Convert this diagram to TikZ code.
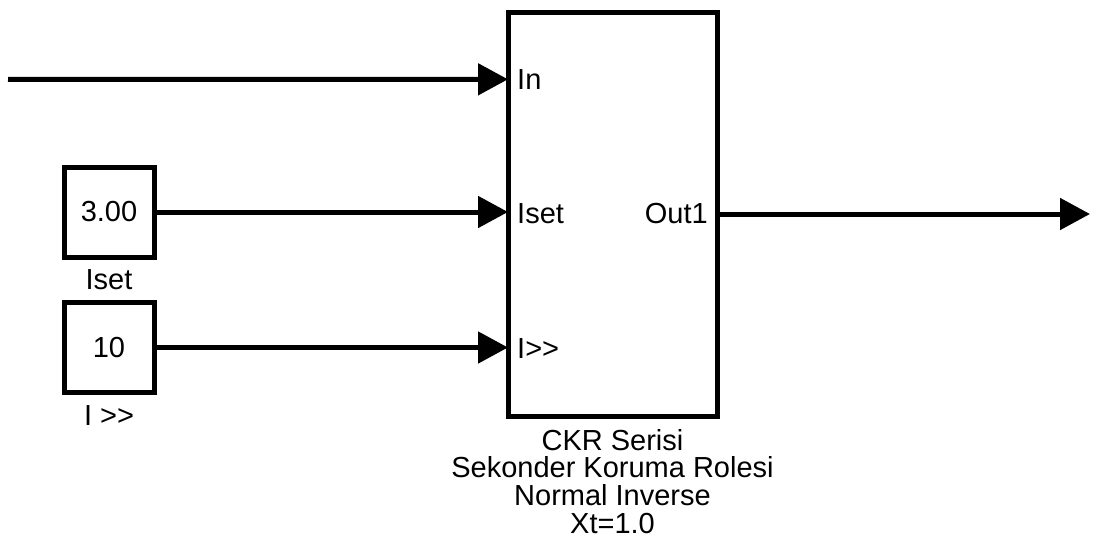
\documentclass[tikz,border=0pt]{standalone}
\usepackage{fontspec}
\setmainfont{Liberation Sans}
\usetikzlibrary{arrows.meta,calc}
\begin{document}
\begin{tikzpicture}[x=1pt,y=1pt,
  wire/.style={line width=5pt, -{Triangle[length=30pt,width=31pt]}},
  blk/.style={draw, line width=5pt, inner sep=0pt, outer sep=0pt},
  lbl/.style={font=\fontsize{29}{27.7}\selectfont, inner sep=0pt},
]
\useasboundingbox (0,0) rectangle (1098,-554);

% relay block
\node[blk, minimum width=209pt, minimum height=404pt] (ckr) at (612.5,-214) {};
\coordinate (pin)  at ($(ckr.north west)!1/6!(ckr.south west)$);
\coordinate (pset) at (ckr.west);
\coordinate (phi)  at ($(ckr.north west)!5/6!(ckr.south west)$);

% port labels
\node[lbl, anchor=west] (tin)  at ($(pin)+(9,0)$)  {In};
\node[lbl, anchor=west] (tset) at ($(pset)+(9,0)$) {Iset};
\node[lbl, anchor=west] (thi)  at ($(phi)+(9,0)$)  {I>{}>};
\node[lbl, anchor=east] (tout) at ($(ckr.east)+(-9,0)$) {Out1};

% constant blocks
\node[blk, lbl, minimum width=90pt, minimum height=90pt] (iset) at (109,-212) {3.00};
\node[blk, lbl, minimum width=90pt, minimum height=90pt] (ihigh) at (109,-347.5) {10};
\node[lbl] (liset) at (109,-280) {Iset};
\node[lbl] (lihigh) at (109,-415.5) {I >{}>};

% block caption
\node[lbl, align=center, anchor=north] (cap) at (612.5,-429) {CKR Serisi\\Sekonder Koruma Rolesi\\Normal Inverse\\Xt=1.0};

% signal lines
\coordinate (src)  at (8,-79.3);
\coordinate (sink) at (1090,-214);
\draw[wire] (src) -- (pin);
\draw[wire] (iset.east) -- (iset.east -| ckr.west);
\draw[wire] (ihigh.east) -- (ihigh.east -| ckr.west);
\draw[wire] (ckr.east) -- (sink);
\end{tikzpicture}
\end{document}
